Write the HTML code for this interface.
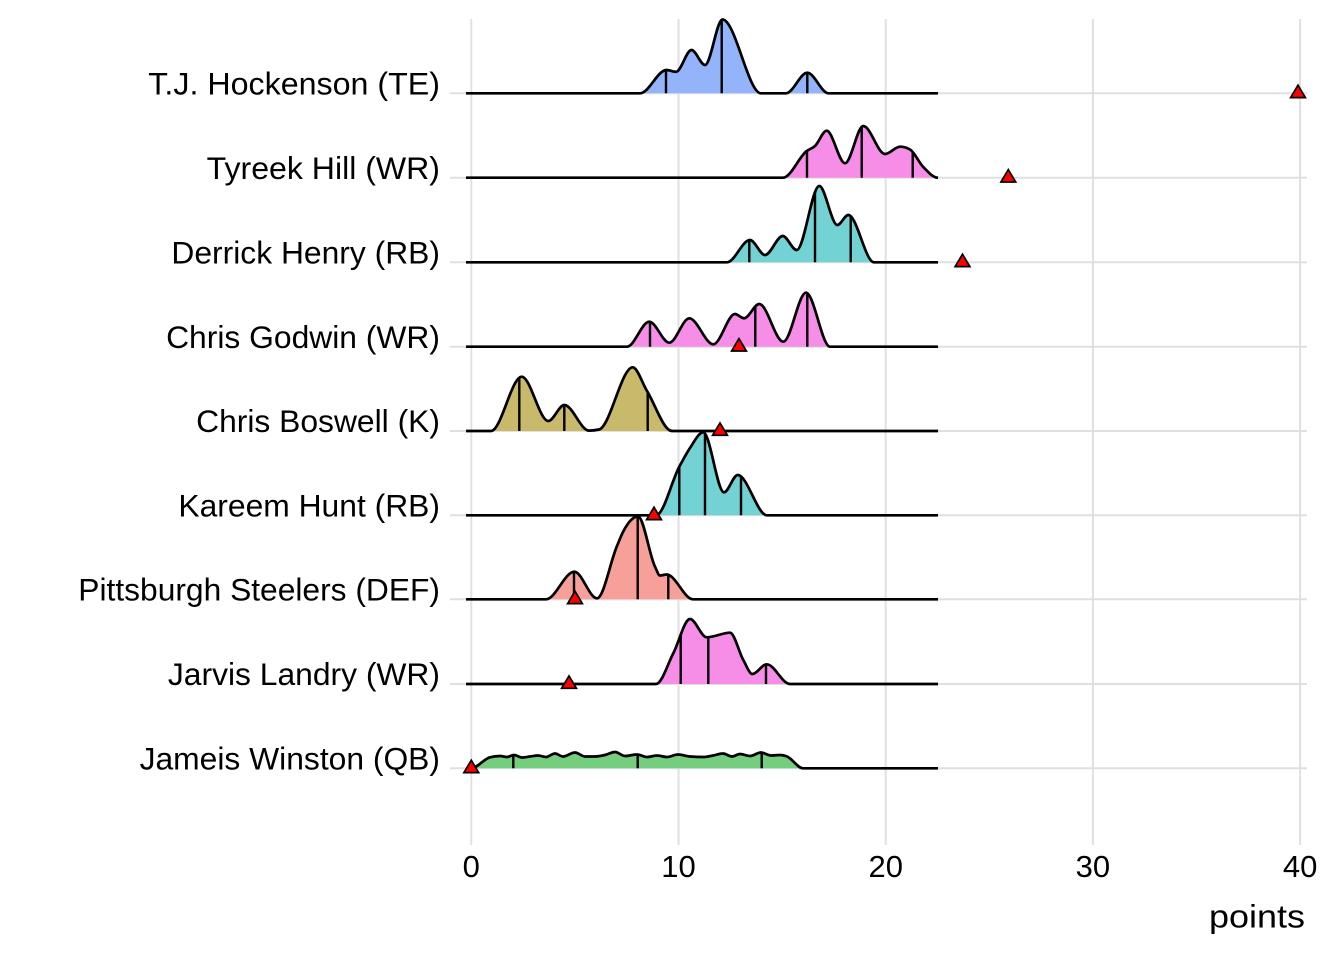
<!DOCTYPE html>
<html>
<head>
<meta charset="utf-8">
<style>
html,body{margin:0;padding:0;background:#fff;}
svg{display:block;}
text{font-family:"Liberation Sans",Arial,sans-serif;fill:#000;}
</style>
</head>
<body>
<svg id="chart" xmlns="http://www.w3.org/2000/svg" width="1344" height="960" viewBox="0 0 1344 960">
<rect x="0" y="0" width="1344" height="960" fill="#fff"/>
<g stroke="#E0E0E0" stroke-width="2" fill="none">
  <line x1="471.3" y1="19" x2="471.3" y2="845"/>
  <line x1="678.5" y1="19" x2="678.5" y2="845"/>
  <line x1="885.7" y1="19" x2="885.7" y2="845"/>
  <line x1="1092.9" y1="19" x2="1092.9" y2="845"/>
  <line x1="1300.1" y1="19" x2="1300.1" y2="845"/>
  <line x1="450" y1="93.3" x2="1307" y2="93.3"/>
  <line x1="450" y1="177.7" x2="1307" y2="177.7"/>
  <line x1="450" y1="262.3" x2="1307" y2="262.3"/>
  <line x1="450" y1="346.7" x2="1307" y2="346.7"/>
  <line x1="450" y1="431" x2="1307" y2="431"/>
  <line x1="450" y1="515.3" x2="1307" y2="515.3"/>
  <line x1="450" y1="599.3" x2="1307" y2="599.3"/>
  <line x1="450" y1="684" x2="1307" y2="684"/>
  <line x1="450" y1="768.3" x2="1307" y2="768.3"/>
</g>
<defs id="defs"></defs>
<g id="ridges"></g>
<g id="tris" fill="#FF0000" stroke="#000" stroke-width="1.7" stroke-linejoin="miter">
  <polygon points="1298,85.2 1290.6,97.6 1305.4,97.6"/>
  <polygon points="1008.3,169.6 1000.9,182 1015.7,182"/>
  <polygon points="962.5,254.2 955.1,266.6 969.9,266.6"/>
  <polygon points="739,338.6 731.6,351 746.4,351"/>
  <polygon points="720,422.9 712.6,435.3 727.4,435.3"/>
  <polygon points="654,507.2 646.6,519.6 661.4,519.6"/>
  <polygon points="575,591.2 567.6,603.6 582.4,603.6"/>
  <polygon points="569,675.9 561.6,688.3 576.4,688.3"/>
  <polygon points="471.3,760.2 463.9,772.6 478.7,772.6"/>
</g>
<g font-size="31.8" text-anchor="end">
  <text x="440" y="94.5" textLength="291.7" lengthAdjust="spacingAndGlyphs">T.J. Hockenson (TE)</text>
  <text x="440" y="178.9" textLength="233.3" lengthAdjust="spacingAndGlyphs">Tyreek Hill (WR)</text>
  <text x="440" y="263.5" textLength="268.6" lengthAdjust="spacingAndGlyphs">Derrick Henry (RB)</text>
  <text x="440" y="347.9" textLength="273.9" lengthAdjust="spacingAndGlyphs">Chris Godwin (WR)</text>
  <text x="440" y="432.2" textLength="243.9" lengthAdjust="spacingAndGlyphs">Chris Boswell (K)</text>
  <text x="440" y="516.5" textLength="261.6" lengthAdjust="spacingAndGlyphs">Kareem Hunt (RB)</text>
  <text x="440" y="600.5" textLength="361.7" lengthAdjust="spacingAndGlyphs">Pittsburgh Steelers (DEF)</text>
  <text x="440" y="685.2" textLength="272.1" lengthAdjust="spacingAndGlyphs">Jarvis Landry (WR)</text>
  <text x="440" y="769.5" textLength="300.4" lengthAdjust="spacingAndGlyphs">Jameis Winston (QB)</text>
</g>
<g font-size="31" text-anchor="middle">
  <text x="471.3" y="877">0</text>
  <text x="678.5" y="877">10</text>
  <text x="885.7" y="877">20</text>
  <text x="1092.9" y="877">30</text>
  <text x="1300.1" y="877">40</text>
</g>
<text x="1305" y="927.3" font-size="32" text-anchor="end" textLength="96" lengthAdjust="spacingAndGlyphs">points</text>
</svg>
<script>
(function(){
var NS="http://www.w3.org/2000/svg";
var rows=[
 {b:93.3,c:"#93B4FA",q:[666,721.7,807.3],p:[[466,93.3],[640,93.3],[666.5,70],[676,71.8],[691.5,50],[705,65],[722.5,19.5],[761,93.3],[786,93.3],[807.3,72.7],[828.5,93.3],[938,93.3]]},
 {b:177.7,c:"#F68EE8",q:[807,861.7,912.7],p:[[466,177.7],[783,177.7],[806.7,151],[815,146],[826.7,130.7],[845,163.3],[863.3,126],[885,154],[900,146.7],[910,149.5],[923,166.7],[938,177.7]]},
 {b:262.3,c:"#73D2D3",q:[749.3,815,850.7],p:[[466,262.3],[727,262.3],[750,240],[765,255],[782.7,236],[796.7,250],[819.3,186],[837.3,225],[848.3,215],[874,262.3],[938,262.3]]},
 {b:346.7,c:"#F68EE8",q:[650,755.3,807.3],p:[[466,346.7],[627,346.7],[649.3,321.7],[669.3,342.7],[689.3,318.3],[713.3,344.3],[735,314],[744,318.3],[759.3,304],[783.3,341.7],[806,292.7],[830,346.7],[938,346.7]]},
 {b:431,c:"#C9B96A",q:[519.3,564.3,647.7],p:[[466,431],[491,431],[521.7,376.7],[548.3,421],[564.3,405],[589,430.6],[599,429.5],[632.7,367.3],[647,391],[672,431],[938,431]]},
 {b:515.3,c:"#73D2D3",q:[679.3,705,741],p:[[466,515.3],[656,515.3],[679.3,466.7],[690,448],[703.3,432.3],[724,492.3],[737.7,475],[767,515.3],[938,515.3]]},
 {b:599.3,c:"#F7A09A",q:[574,637.7,668.3],p:[[466,599.3],[546,599.3],[574.3,571.7],[597,598.3],[616.7,546.7],[623,532],[638,516.5],[655,566.7],[660,575.5],[666.7,574.5],[693,599.3],[938,599.3]]},
 {b:684,c:"#F68EE8",q:[680.7,708.3,766],p:[[466,684],[656,684],[673.3,653.3],[690,619],[706.7,637.3],[730,632.7],[743.3,660],[752.3,674],[766.7,664.3],[790,684],[938,684]]},
 {b:768.3,c:"#74CE7E",q:[513.3,637.7,761.7],p:[[466,768.3],[471,768.3],[490,757.3],[500,756],[507,757],[514,755],[522,757.5],[530,756.5],[538,755.5],[546,757],[555,753.5],[563,756.5],[575,752.5],[585,756.5],[595,756.5],[605,755],[615,752],[625,756],[637,754.5],[647,757],[657,755.5],[667,757],[678,754.5],[690,756.5],[703,757],[713,755.5],[723,753.5],[732,756.5],[740,754],[750,756],[761,752.5],[771,755.5],[780,755],[787,756.5],[803,768.3],[938,768.3]]}
];
function sgn(v){return v>0?1:(v<0?-1:0);}
function curve(p){
  var n=p.length,t=new Array(n),i;
  t[0]=0;t[n-1]=0;
  for(i=1;i<n-1;i++){
    var h0=p[i][0]-p[i-1][0],h1=p[i+1][0]-p[i][0];
    var s0=(p[i][1]-p[i-1][1])/h0,s1=(p[i+1][1]-p[i][1])/h1;
    var pp=(s0*h1+s1*h0)/(h0+h1);
    t[i]=(sgn(s0)+sgn(s1))*Math.min(Math.abs(s0),Math.abs(s1),0.5*Math.abs(pp))||0;
  }
  var d="M"+p[0][0]+","+p[0][1];
  for(i=0;i<n-1;i++){
    var x0=p[i][0],y0=p[i][1],x1=p[i+1][0],y1=p[i+1][1],dx=(x1-x0)/3;
    d+=" C"+(x0+dx).toFixed(2)+","+(y0+dx*t[i]).toFixed(2)+" "+(x1-dx).toFixed(2)+","+(y1-dx*t[i+1]).toFixed(2)+" "+x1+","+y1;
  }
  return d;
}
var defs=document.getElementById("defs"),g=document.getElementById("ridges");
function el(name,attrs,parent){var e=document.createElementNS(NS,name);for(var k in attrs)e.setAttribute(k,attrs[k]);parent.appendChild(e);return e;}
rows.forEach(function(r,idx){
  var d=curve(r.p);
  var fd=d+" L938,"+r.b+" L466,"+r.b+" Z";
  var cp=el("clipPath",{id:"cp"+idx},defs);
  el("path",{d:fd},cp);
  var rg=el("g",{},g);
  el("path",{d:fd,fill:r.c,stroke:"none"},rg);
  var qg=el("g",{"clip-path":"url(#cp"+idx+")",stroke:"#000","stroke-width":"2.4"},rg);
  r.q.forEach(function(x){el("line",{x1:x,y1:r.b+2,x2:x,y2:r.b-120},qg);});
  el("path",{d:d,fill:"none",stroke:"#000","stroke-width":"2.7","stroke-linejoin":"round","stroke-linecap":"butt"},rg);
});
})();
</script>
</body>
</html>
